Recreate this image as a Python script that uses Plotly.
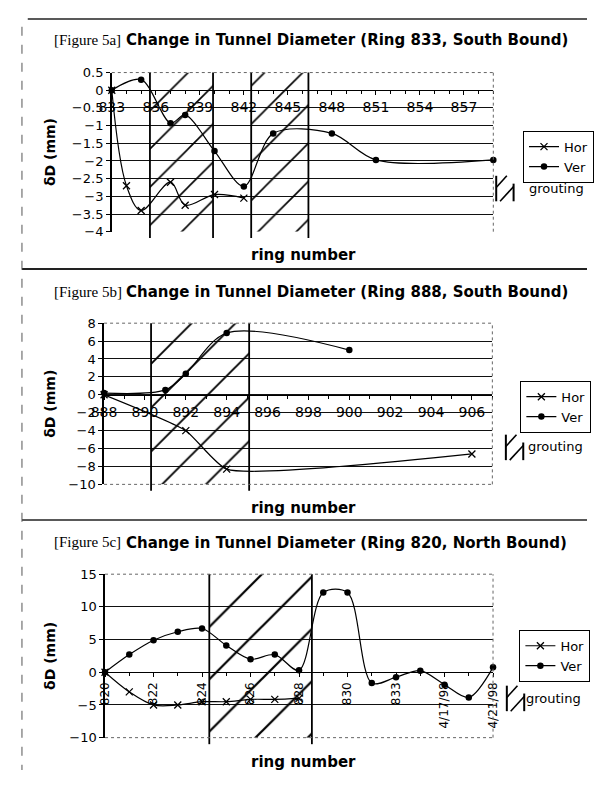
import plotly.graph_objects as go

# page is 602x786; the browser body keeps its default 8px margin,
# so the figure itself is 586x770 and is placed 8px in from the top-left.
PAGE_OFF = 8
W, H = 586, 770

# ---------------- data ----------------
# Figure 5a
a_label = "[Figure 5a]"
a_title = "Change in Tunnel Diameter (Ring 833, South Bound)"
a_hor_x = [833, 834, 835, 837, 838, 840, 842]
a_hor_y = [0, -2.7, -3.4, -2.6, -3.25, -2.95, -3.05]
a_ver_x = [833, 835, 837, 838, 840, 842, 844, 848, 851, 859]
a_ver_y = [0, 0.3, -0.93, -0.7, -1.72, -2.72, -1.22, -1.22, -1.97, -1.97]
a_xticks = [833, 836, 839, 842, 845, 848, 851, 854, 857]
a_yticks = [0.5, 0, -0.5, -1, -1.5, -2, -2.5, -3, -3.5, -4]
a_grout = [(835.6, 839.9), (842.5, 846.4)]

# Figure 5b
b_label = "[Figure 5b]"
b_title = "Change in Tunnel Diameter (Ring 888, South Bound)"
b_hor_x = [888, 892, 894, 906]
b_hor_y = [0, -4.0, -8.3, -6.6]
b_ver_x = [888, 891, 892, 894, 900]
b_ver_y = [0.2, 0.55, 2.35, 6.9, 5.0]
b_xticks = [888, 890, 892, 894, 896, 898, 900, 902, 904, 906]
b_yticks = [8, 6, 4, 2, 0, -2, -4, -6, -8, -10]
b_grout = [(890.3, 895.1)]

# Figure 5c
c_label = "[Figure 5c]"
c_title = "Change in Tunnel Diameter (Ring 820, North Bound)"
c_hor_x = [0, 1, 2, 3, 4, 5, 6, 7, 8]
c_hor_y = [0, -3.0, -5.0, -5.0, -4.5, -4.5, -4.15, -4.15, -4.0]
c_ver_x = list(range(17))
c_ver_y = [0, 2.7, 4.9, 6.2, 6.7, 4.1, 2.0, 2.7, 0.3, 12.2, 12.2, -1.65, -0.75, 0.25, -1.9, -3.85, 0.75]
c_xtickpos = [0, 2, 4, 6, 8, 10, 12, 14, 16]
c_xticktext = ["820", "822", "824", "826", "828", "830", "833", "4/17/98", "4/21/98"]
c_yticks = [15, 10, 5, 0, -5, -10]
c_grout = [(4.3, 8.53)]

# ---------------- layout helpers ----------------
def px_x(p):
    return (p - PAGE_OFF) / W

def px_y(p):
    return 1 - (p - PAGE_OFF) / H

fig = go.Figure()
layout = dict(
    width=W, height=H, margin=dict(l=0, r=0, t=0, b=0),
    paper_bgcolor="white", plot_bgcolor="rgba(0,0,0,0)",
    showlegend=True, shapes=[], annotations=[],
)

panels = [
    dict(s="", lx="legend", label=a_label, title=a_title, tl_y=33,
         box=(102, 497, 66.7, 229), xr=[833, 859], yr=[-4, 0.5],
         xt=a_xticks, xtt=[str(v) for v in a_xticks], xangle=0, xfont=14,
         yt=a_yticks, ygrid=[v for v in a_yticks if v != 0.5],
         hx=a_hor_x, hy=a_hor_y, vx=a_ver_x, vy=a_ver_y, gr=a_grout, gsize=27,
         hsmooth=1.0, xtitle_y=253, leg=(528, 126), glyph=(500, 172), gtext=(532, 185),
         dotted_bottom=False),
    dict(s="2", lx="legend2", label=b_label, title=b_title, tl_y=290,
         box=(94, 496, 322.3, 486.7), xr=[888, 907], yr=[-10, 8],
         xt=b_xticks, xtt=[str(v) for v in b_xticks], xangle=0, xfont=14,
         yt=b_yticks, ygrid=[v for v in b_yticks if v not in (8, -10)],
         hx=b_hor_x, hy=b_hor_y, vx=b_ver_x, vy=b_ver_y, gr=b_grout, gsize=31,
         hsmooth=0.5, xtitle_y=511, leg=(525, 381), glyph=(510, 436), gtext=(531, 448),
         dotted_bottom=True),
    dict(s="3", lx="legend3", label=c_label, title=c_title, tl_y=545,
         box=(95, 496.7, 578.3, 745), xr=[0, 16], yr=[-10, 15],
         xt=c_xtickpos, xtt=c_xticktext, xangle=-90, xfont=12,
         yt=c_yticks, ygrid=[v for v in c_yticks if v not in (15, -10)],
         hx=c_hor_x, hy=c_hor_y, vx=c_ver_x, vy=c_ver_y, gr=c_grout, gsize=37,
         hsmooth=1.0, xtitle_y=770, leg=(524, 635), glyph=(511, 692), gtext=(529, 705),
         dotted_bottom=True),
]

TICKFONT = "DejaVu Sans"
BOLD = "DejaVu Sans"

for p in panels:
    s = p["s"]
    x0p, x1p, ytp, ybp = p["box"]
    xd = [px_x(x0p), px_x(x1p)]
    yd = [px_y(ybp), px_y(ytp)]
    ymin, ymax = p["yr"]
    pos = yd[0] + (0 - ymin) / (ymax - ymin) * (yd[1] - yd[0])
    xname, yname = "x" + s, "y" + s

    layout["xaxis" + s] = dict(
        domain=xd, range=p["xr"], anchor="free", position=pos,
        tickmode="array", tickvals=p["xt"], ticktext=p["xtt"], tickangle=p["xangle"],
        showline=True, linecolor="black", linewidth=1.4,
        ticks="outside", ticklen=4, tickcolor="black", showgrid=False, zeroline=False,
        tickfont=dict(family=TICKFONT, size=p["xfont"], color="black"),
        minor=dict(dtick=1, tick0=p["xr"][0], ticks="outside", ticklen=3, tickcolor="black", showgrid=False),
    )
    layout["yaxis" + s] = dict(
        domain=yd, range=p["yr"], anchor=xname,
        tickmode="array", tickvals=p["yt"],
        showline=True, linecolor="black", linewidth=1.5,
        ticks="outside", ticklen=4, tickcolor="black", showgrid=False, zeroline=False,
        tickfont=dict(family=TICKFONT, size=13, color="black"),
        minor=dict(tickmode="array", tickvals=p["ygrid"], showgrid=True,
                   gridcolor="#111111", gridwidth=1.3, ticks=""),
    )

    # grouting hatched regions
    gx, gy = [], []
    for a, b in p["gr"]:
        gx += [a, a, b, b, a, None]
        gy += [ymin, ymax, ymax, ymin, ymin, None]
    fig.add_trace(go.Scatter(
        x=gx, y=gy, xaxis=xname, yaxis=yname, mode="lines", fill="toself",
        line=dict(width=0, color="black"), fillcolor="rgba(0,0,0,0)",
        fillpattern=dict(shape="/", size=p["gsize"], solidity=0.06,
                         fgcolor="black", bgcolor="rgba(0,0,0,0)", fgopacity=1),
        name="grouting", showlegend=False, hoverinfo="skip"))
    for a, b in p["gr"]:
        for xv in (a, b):
            layout["shapes"].append(dict(
                type="line", xref=xname, yref=yname + " domain", x0=xv, x1=xv,
                y0=-0.04, y1=1, line=dict(color="black", width=1.8)))

    fig.add_trace(go.Scatter(
        x=p["hx"], y=p["hy"], xaxis=xname, yaxis=yname, mode="lines+markers",
        line=dict(color="black", width=1.2, shape="spline", smoothing=p["hsmooth"]),
        marker=dict(symbol="x-thin", size=7, line=dict(color="black", width=1.3)),
        name="Hor", legend=p["lx"], cliponaxis=False))
    fig.add_trace(go.Scatter(
        x=p["vx"], y=p["vy"], xaxis=xname, yaxis=yname, mode="lines+markers",
        line=dict(color="black", width=1.2, shape="spline", smoothing=0.9),
        marker=dict(symbol="circle", size=6.5, color="black"),
        name="Ver", legend=p["lx"], cliponaxis=False))

    # dotted plot-area border (top, right, optional bottom)
    dot = dict(color="#666666", width=1, dash="dot")
    layout["shapes"].append(dict(type="line", xref=xname + " domain", yref=yname + " domain",
                                 x0=0, x1=1, y0=1, y1=1, line=dot))
    layout["shapes"].append(dict(type="line", xref=xname + " domain", yref=yname + " domain",
                                 x0=1, x1=1, y0=0, y1=1, line=dot))
    if p["dotted_bottom"]:
        layout["shapes"].append(dict(type="line", xref=xname + " domain", yref=yname + " domain",
                                     x0=0, x1=1, y0=0, y1=0, line=dot))

    # Hor / Ver legend box
    lx, ly = p["leg"]
    layout[p["lx"]] = dict(x=px_x(lx), y=px_y(ly), xanchor="left", yanchor="top",
                           bgcolor="white", bordercolor="black", borderwidth=1,
                           font=dict(family=TICKFONT, size=13, color="black"),
                           itemwidth=30, tracegroupgap=0)

    # grouting key: hatched glyph + label
    gx0, gy0 = p["glyph"]
    gw, gh = 18, 26
    kline = dict(color="black", width=2)
    layout["shapes"] += [
        dict(type="line", xref="paper", yref="paper", x0=px_x(gx0), x1=px_x(gx0),
             y0=px_y(gy0), y1=px_y(gy0 + gh), line=kline),
        dict(type="line", xref="paper", yref="paper", x0=px_x(gx0 + gw), x1=px_x(gx0 + gw),
             y0=px_y(gy0 + 8), y1=px_y(gy0 + gh), line=kline),
        dict(type="line", xref="paper", yref="paper", x0=px_x(gx0), x1=px_x(gx0 + 11),
             y0=px_y(gy0 + 12), y1=px_y(gy0), line=dict(color="black", width=1.6)),
        dict(type="line", xref="paper", yref="paper", x0=px_x(gx0 + 4), x1=px_x(gx0 + gw),
             y0=px_y(gy0 + gh), y1=px_y(gy0 + 11), line=dict(color="black", width=1.6)),
    ]
    tx, ty = p["gtext"]
    layout["annotations"].append(dict(
        text="grouting", x=px_x(tx), y=px_y(ty), xref="paper", yref="paper",
        xanchor="left", yanchor="middle", showarrow=False,
        font=dict(family=TICKFONT, size=13, color="black")))

    # titles
    layout["annotations"].append(dict(
        text=p["label"], x=px_x(40), y=px_y(p["tl_y"]), xref="paper", yref="paper",
        xanchor="left", yanchor="middle", showarrow=False,
        font=dict(family="Liberation Serif", size=15, color="black")))
    layout["annotations"].append(dict(
        text="<b>" + p["title"] + "</b>", x=px_x(115), y=px_y(p["tl_y"] + 1), xref="paper", yref="paper",
        xanchor="left", yanchor="middle", showarrow=False,
        font=dict(family=BOLD, size=15, color="black")))
    layout["annotations"].append(dict(
        text="<b>ring number</b>", x=px_x(300), y=px_y(p["xtitle_y"]), xref="paper", yref="paper",
        xanchor="center", yanchor="middle", showarrow=False,
        font=dict(family=BOLD, size=15, color="black")))
    layout["annotations"].append(dict(
        text="<b>δD (mm)</b>", x=px_x(38), y=px_y((ytp + ybp) / 2), xref="paper", yref="paper",
        xanchor="center", yanchor="middle", showarrow=False, textangle=-90,
        font=dict(family=BOLD, size=14, color="black")))

# page frame lines
layout["shapes"] += [
    dict(type="line", xref="paper", yref="paper", x0=px_x(15), x1=1, y0=px_y(12), y1=px_y(12),
         line=dict(color="#222222", width=1.5)),
    dict(type="line", xref="paper", yref="paper", x0=px_x(9), x1=1, y0=px_y(267), y1=px_y(267),
         line=dict(color="#222222", width=2)),
    dict(type="line", xref="paper", yref="paper", x0=px_x(9), x1=1, y0=px_y(523), y1=px_y(523),
         line=dict(color="#222222", width=1.5)),
    dict(type="line", xref="paper", yref="paper", x0=px_x(9), x1=px_x(9), y0=px_y(20), y1=0,
         line=dict(color="#555555", width=1, dash="dash")),
]

fig.update_layout(**layout)
fig.write_html("out.html", config={"displayModeBar": False})
